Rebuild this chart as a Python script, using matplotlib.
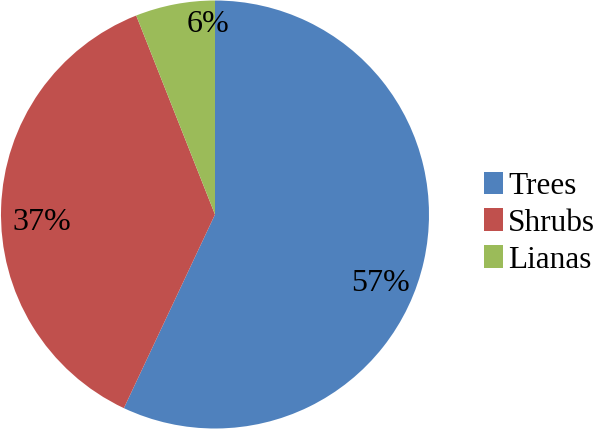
import matplotlib
matplotlib.use("Agg")
import matplotlib.pyplot as plt
import numpy as np

labels = ["Trees", "Shrubs", "Lianas"]
values = [57, 37, 6]
colors = ["#4F81BD", "#C0504D", "#9BBB59"]

FONT = "Liberation Serif"

fig = plt.figure(figsize=(5.96, 4.29), dpi=100)
ax = fig.add_axes([0.0 / 596, 0.5 / 429, 430 / 596, 428 / 429])

wedges, _ = ax.pie(values, colors=colors, startangle=90, counterclock=False,
                   wedgeprops=dict(linewidth=0))
ax.set_aspect("equal")
ax.set_xlim(-1, 1)
ax.set_ylim(-1, 1)

# label placement (angle in degrees, distance as fraction of radius)
label_pos = [(-22.7, 0.84), (182.6, 0.81), (92.0, 0.89)]
for v, (ang, r) in zip(values, label_pos):
    a = np.deg2rad(ang)
    ax.text(r * np.cos(a), r * np.sin(a), f"{v}%", ha="center", va="center",
            fontsize=23, color="black", family=FONT)

leg = fig.legend(wedges, labels, loc="center left", bbox_to_anchor=(484 / 596, 0.48),
                 frameon=False, prop=dict(family=FONT, size=22.5), handlelength=0.62,
                 handleheight=0.75, handletextpad=0.15, labelspacing=0.24,
                 borderpad=0, borderaxespad=0)

fig.savefig("out.png", dpi=100)
